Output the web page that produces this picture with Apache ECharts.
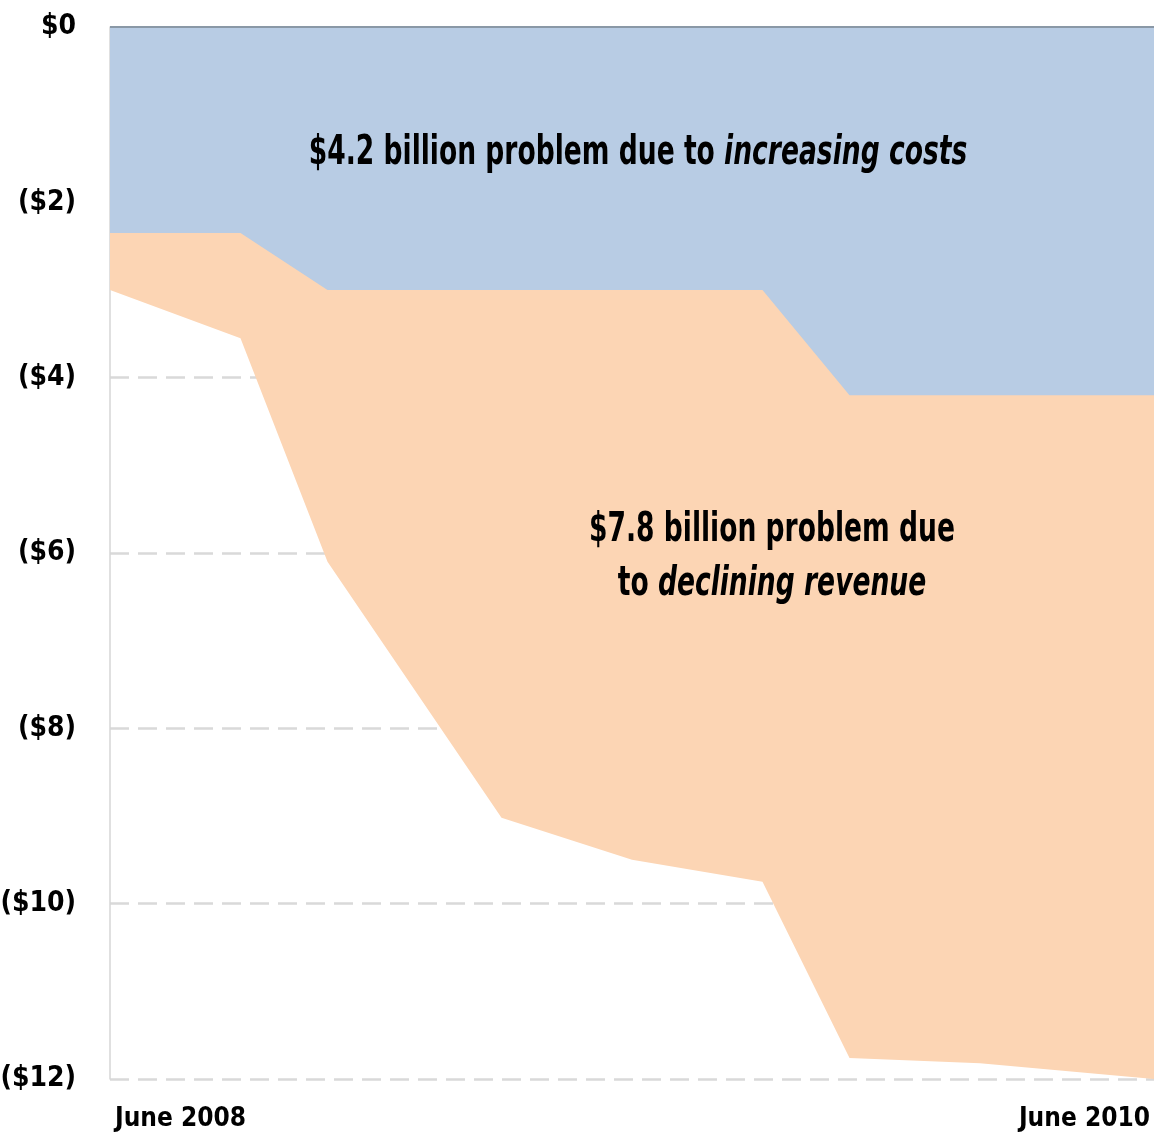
<!DOCTYPE html>
<html>
<head>
<meta charset="utf-8">
<script src="https://cdn.jsdelivr.net/npm/echarts@6/dist/echarts.min.js"></script>
<style>
html,body{margin:0;padding:0;background:#fff;}
#c{width:1154px;height:1132px;}
</style>
</head>
<body>
<div id="c"></div>
<script>
// Months since June 2008
var months = [0, 3, 5, 9, 12, 15, 17, 20, 24];
// Budget problem due to increasing costs (billions, cumulative)
var costs = [-2.35, -2.35, -3.0, -3.0, -3.0, -3.0, -4.2, -4.2, -4.2];
// Total budget problem incl. declining revenue (billions)
var total = [-3.0, -3.55, -6.1, -9.02, -9.5, -9.75, -11.76, -11.82, -12.0];
var xTickLabels = {0: 'June 2008', 24: 'June 2010'};

var FONT = "'Liberation Sans Narrow', 'DejaVu Sans Condensed', 'Roboto Condensed', sans-serif";

function pairs(xs, ys) { return xs.map(function (x, i) { return [x, ys[i]]; }); }

var chart = echarts.init(document.getElementById('c'), null, {renderer: 'canvas'});
chart.setOption({
  animation: false,
  grid: {left: 110, right: 0, top: 27, bottom: 53, containLabel: false, outerBoundsMode: 'none'},
  xAxis: {
    type: 'value', min: 0, max: 24, interval: 24,
    axisLine: {show: false, onZero: false},
    axisTick: {show: false},
    splitLine: {show: false},
    axisLabel: {
      margin: 27, padding: [0, 4, 0, 5],
      fontFamily: FONT, fontWeight: 'bold', fontSize: 26, color: '#000',
      alignMinLabel: 'left', alignMaxLabel: 'right',
      formatter: function (v) { return xTickLabels[v] || ''; }
    }
  },
  yAxis: {
    type: 'value', min: -12, max: 0, interval: 2,
    axisLine: {show: true, lineStyle: {color: '#d6d6d6', width: 1.5}},
    axisTick: {show: false},
    splitLine: {show: true, lineStyle: {color: '#d9d9d9', width: 2.5, type: [19, 9]}},
    axisLabel: {
      margin: 34,
      fontFamily: FONT, fontWeight: 'bold', fontSize: 28, color: '#000',
      formatter: function (v) { return v === 0 ? '$0' : '($' + Math.abs(v) + ')'; }
    }
  },
  series: [
    {
      name: 'Declining revenue', type: 'line', data: pairs(months, total),
      symbol: 'none', lineStyle: {width: 0},
      areaStyle: {color: '#fcd5b4', opacity: 1, origin: 0}, z: 2
    },
    {
      name: 'Increasing costs', type: 'line', data: pairs(months, costs),
      symbol: 'none', lineStyle: {width: 0},
      areaStyle: {color: '#b8cce4', opacity: 1, origin: 0}, z: 3,
      markLine: {
        silent: true, symbol: 'none', label: {show: false},
        lineStyle: {color: '#8a98a6', width: 2, type: 'solid'},
        data: [{yAxis: 0}]
      }
    }
  ],
  graphic: [
    {
      type: 'text', x: 638, y: 153, scaleX: 0.72, z: 10,
      style: {
        text: '{b|$4.2 billion problem due to }{i|increasing costs}',
        align: 'center', verticalAlign: 'middle',
        rich: {
          b: {fontFamily: FONT, fontWeight: 'bold', fontSize: 41, fill: '#000'},
          i: {fontFamily: FONT, fontWeight: 'bold', fontStyle: 'italic', fontSize: 41, fill: '#000'}
        }
      }
    },
    {
      type: 'text', x: 772, y: 557, scaleX: 0.72, z: 10,
      style: {
        text: '{b|$7.8 billion problem due}\n{b|to }{i|declining revenue}',
        align: 'center', verticalAlign: 'middle',
        rich: {
          b: {fontFamily: FONT, fontWeight: 'bold', fontSize: 41, fill: '#000', lineHeight: 54, align: 'center'},
          i: {fontFamily: FONT, fontWeight: 'bold', fontStyle: 'italic', fontSize: 41, fill: '#000', lineHeight: 54}
        }
      }
    }
  ]
});
</script>
</body>
</html>
